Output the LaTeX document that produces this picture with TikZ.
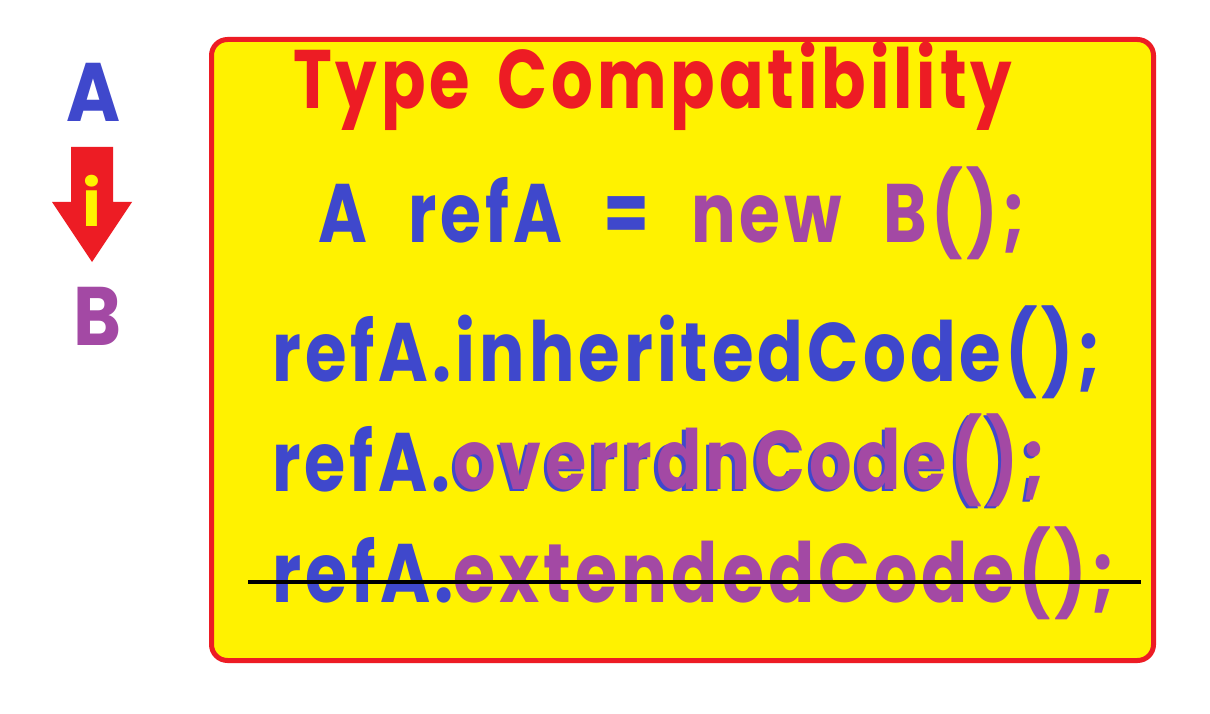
\documentclass[tikz,border=0pt]{standalone}
\usepackage{fontspec}
\setmainfont{Poppins}
\usepackage{graphicx}
\definecolor{pblue}{HTML}{3F48CC}
\definecolor{ppurple}{HTML}{A349A4}
\definecolor{pred}{HTML}{ED1C24}
\definecolor{pyellow}{HTML}{FFF200}
\tikzset{
  codetext/.style={anchor=base west, inner sep=0pt, font=\fontsize{83}{90}\selectfont\bfseries\addfontfeatures{LetterSpace=6}},
  panel/.style={draw=pred, line width=5pt, fill=pyellow, rounded corners=16pt},
  strike/.style={line width=4pt, black},
}
\newcommand{\fitw}[2]{\resizebox{#1pt}{\height}{#2}}
\newcommand{\wsp}{\hspace{34pt}}
\newcommand{\wwsp}{\hspace{52pt}}
\begin{document}
\begin{tikzpicture}[x=1pt,y=-1pt]
\useasboundingbox (0,0) rectangle (1210,714);
\fill[white] (0,0) rectangle (1210,714);
% panel
\draw[panel] (211.5,39.5) rectangle (1153.5,660.5);
% left: A, arrow, B
\node[codetext, text=pblue] (la) at (66,122) {\fitw{54}{A}};
\fill[pred] (71,147) -- (113,147) -- (113,202) -- (132,202) -- (92,262) -- (52,202) -- (71,202) -- cycle;
\node[anchor=base, inner sep=0pt, text=pyellow, font=\fontsize{64}{70}\selectfont\bfseries] (li) at (92,226) {i};
\node[codetext, text=ppurple] (lb) at (73,345) {\fitw{48}{B}};
% title
\node[codetext, text=pred] (title) at (293,109) {\fitw{719}{Type\wsp Compatibility}};
% line 2
\node[codetext] (l2) at (318,243) {\fitw{707}{\color{pblue}A\wwsp refA\wwsp =\wwsp \color{ppurple}new\wwsp B();}};
% line 3
\node[codetext, text=pblue] (l3) at (272,381) {\fitw{829}{refA.inheritedCode();}};
% line 4
\node[codetext] (l4) at (272,491) {\fitw{770}{\color{pblue}refA.\rlap{overrdnCode();}\rlap{\hspace{4pt}\raisebox{2pt}{\color{ppurple}overrdnCode();}}\phantom{overrdnCode();}}};
% line 5
\node[codetext] (l5) at (272,602) {\fitw{843}{\color{pblue}refA.\color{ppurple}extendedCode();}};
\draw[strike] (248,582) -- (1141,582);
\end{tikzpicture}
\end{document}
